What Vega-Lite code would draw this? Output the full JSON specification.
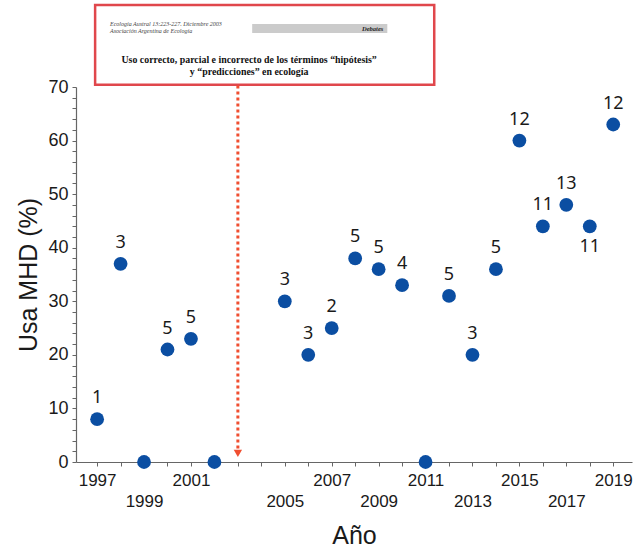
{
  "$schema": "https://vega.github.io/schema/vega-lite/v6.json",
  "width": 556,
  "height": 375,
  "autosize": {"type": "none"},
  "padding": {"left": 76, "top": 87, "right": 3, "bottom": 91},
  "background": "white",
  "config": {"view": {"stroke": null}, "font": "Liberation Sans"},
  "resolve": {"axis": {"x": "independent", "y": "independent"}},
  "data": {
    "values": [
      {"year": 1997, "pct": 8, "n": 1},
      {"year": 1998, "pct": 37, "n": 3},
      {"year": 1999, "pct": 0, "n": null},
      {"year": 2000, "pct": 21, "n": 5},
      {"year": 2001, "pct": 23, "n": 5},
      {"year": 2002, "pct": 0, "n": null},
      {"year": 2005, "pct": 30, "n": 3},
      {"year": 2006, "pct": 20, "n": 3},
      {"year": 2007, "pct": 25, "n": 2},
      {"year": 2008, "pct": 38, "n": 5},
      {"year": 2009, "pct": 36, "n": 5},
      {"year": 2010, "pct": 33, "n": 4},
      {"year": 2011, "pct": 0, "n": null},
      {"year": 2012, "pct": 31, "n": 5},
      {"year": 2013, "pct": 20, "n": 3},
      {"year": 2014, "pct": 36, "n": 5},
      {"year": 2015, "pct": 60, "n": 12},
      {"year": 2016, "pct": 44, "n": 11},
      {"year": 2017, "pct": 48, "n": 13},
      {"year": 2018, "pct": 44, "n": 11},
      {"year": 2019, "pct": 63, "n": 12}
    ]
  },
  "layer": [
    {
      "mark": {"type": "point", "filled": true, "shape": "circle", "size": 190, "opacity": 1, "color": "#0b4ea2", "clip": false},
      "encoding": {
        "x": {
          "field": "year", "type": "quantitative",
          "scale": {"domain": [1996.1, 2019.8], "nice": false, "zero": false},
          "axis": {
            "title": "Año", "titleFontSize": 25, "titleFontWeight": "normal", "titleColor": "#1a1a1a", "titlePadding": 14,
            "values": [1997,1998,1999,2000,2001,2002,2003,2004,2005,2006,2007,2008,2009,2010,2011,2012,2013,2014,2015,2016,2017,2018,2019],
            "format": "d",
            "labelExpr": "indexof([1997,1999,2001,2005,2007,2009,2011,2013,2015,2017,2019], datum.value) >= 0 ? datum.label : ''",
            "labelFontSize": 17, "labelColor": "#1a1a1a", "labelOverlap": false, "labelBound": false, "labelFlush": false,
            "labelPadding": {"condition": {"test": "indexof([1999,2005,2009,2013,2017], datum.value) >= 0", "value": 27}, "value": 6},
            "domain": true, "ticks": true, "domainColor": "#666", "domainWidth": 1.2, "tickColor": "#666", "tickSize": 4, "grid": false
          }
        },
        "y": {
          "field": "pct", "type": "quantitative",
          "scale": {"domain": [0, 70], "nice": false},
          "axis": {
            "title": "Usa MHD (%)", "titleFontSize": 25, "titleFontWeight": "normal", "titleColor": "#1a1a1a", "titlePadding": 6,
            "values": [0,2,4,6,8,10,12,14,16,18,20,22,24,26,28,30,32,34,36,38,40,42,44,46,48,50,52,54,56,58,60,62,64,66,68,70],
            "labelExpr": "datum.value % 10 == 0 ? datum.label : ''",
            "labelFontSize": {"condition": {"test": "datum.value % 10 != 0", "value": 1}, "value": 18},
            "labelColor": "#1a1a1a", "labelOverlap": false, "labelBound": false, "labelFlush": false, "labelPadding": 4,
            "domain": true, "ticks": true, "domainColor": "#666", "domainWidth": 1.2, "tickColor": "#666", "tickSize": 4, "grid": false
          }
        }
      }
    },
    {
      "transform": [{"filter": "datum.n != null && datum.year != 2018"}],
      "mark": {"type": "text", "dy": -21, "fontSize": 18, "font": "Noto Sans", "color": "#1a1a1a", "clip": false},
      "encoding": {
        "x": {"field": "year", "type": "quantitative", "axis": null},
        "y": {"field": "pct", "type": "quantitative", "axis": null},
        "text": {"field": "n", "type": "nominal"}
      }
    },
    {
      "transform": [{"filter": "datum.year == 2018"}],
      "mark": {"type": "text", "dy": 21, "fontSize": 18, "font": "Noto Sans", "color": "#1a1a1a", "clip": false},
      "encoding": {
        "x": {"field": "year", "type": "quantitative", "axis": null},
        "y": {"field": "pct", "type": "quantitative", "axis": null},
        "text": {"field": "n", "type": "nominal"}
      }
    },
    {
      "data": {"values": [{"k": "box"}]},
      "mark": {"type": "rect", "fill": "white", "stroke": "#e0474c", "strokeWidth": 2.5, "clip": false},
      "encoding": {
        "x": {"datum": 1996.915, "axis": null},
        "x2": {"datum": 2011.37},
        "y": {"datum": 85.3, "axis": null},
        "y2": {"datum": 70.4}
      }
    },
    {
      "data": {"values": [{"k": "bar"}]},
      "mark": {"type": "rect", "fill": "#cbcbcb", "clip": false},
      "encoding": {
        "x": {"datum": 2003.61, "axis": null},
        "x2": {"datum": 2009.37},
        "y": {"datum": 81.76, "axis": null},
        "y2": {"datum": 80.08}
      }
    },
    {
      "data": {"values": [{"t": "Ecología Austral 13:223-227. Diciembre 2003\nAsociación Argentina de Ecología"}]},
      "mark": {"type": "text", "align": "left", "baseline": "middle", "lineBreak": "\n", "lineHeight": 7, "font": "Liberation Serif", "fontStyle": "italic", "fontSize": 6, "color": "#444", "clip": false},
      "encoding": {
        "x": {"datum": 1997.55, "axis": null},
        "y": {"datum": 81.7, "axis": null},
        "text": {"field": "t", "type": "nominal"}
      }
    },
    {
      "data": {"values": [{"t": "Debates"}]},
      "mark": {"type": "text", "align": "right", "baseline": "middle", "font": "Liberation Serif", "fontStyle": "italic", "fontWeight": "bold", "fontSize": 6.5, "color": "#222", "clip": false},
      "encoding": {
        "x": {"datum": 2009.2, "axis": null},
        "y": {"datum": 80.9, "axis": null},
        "text": {"field": "t", "type": "nominal"}
      }
    },
    {
      "data": {"values": [{"t": "Uso correcto, parcial e incorrecto de los términos “hipótesis”\ny “predicciones” en ecología"}]},
      "mark": {"type": "text", "align": "center", "baseline": "middle", "lineBreak": "\n", "lineHeight": 12, "font": "Liberation Serif", "fontWeight": "bold", "fontSize": 9.9, "color": "#111", "clip": false},
      "encoding": {
        "x": {"datum": 2003.48, "axis": null},
        "y": {"datum": 75.0, "axis": null},
        "text": {"field": "t", "type": "nominal"}
      }
    },
    {
      "data": {"values": [{"k": "arrow"}]},
      "mark": {"type": "rule", "color": "#f04e30", "strokeWidth": 3, "strokeDash": [3, 3], "clip": false},
      "encoding": {
        "x": {"datum": 2003, "axis": null},
        "y": {"datum": 70.3, "axis": null},
        "y2": {"datum": 2.2}
      }
    },
    {
      "data": {"values": [{"k": "head"}]},
      "mark": {"type": "point", "shape": "triangle-down", "filled": true, "size": 70, "opacity": 1, "color": "#f04e30", "clip": false},
      "encoding": {
        "x": {"datum": 2003, "axis": null},
        "y": {"datum": 1.6, "axis": null}
      }
    }
  ]
}
